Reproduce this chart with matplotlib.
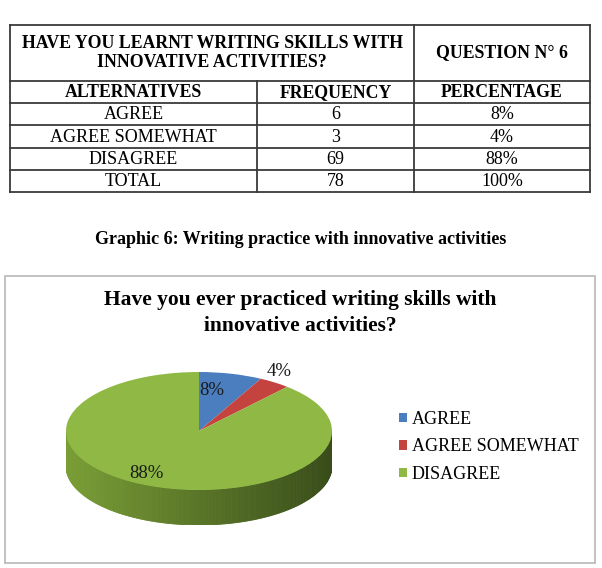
import numpy as np
import matplotlib
matplotlib.use("Agg")
import matplotlib.pyplot as plt
from matplotlib.patches import Polygon, Patch, Rectangle


ALTERNATIVES = ["AGREE", "AGREE SOMEWHAT", "DISAGREE"]
FREQUENCY = [6, 3, 69]
PERCENTAGE = ["8%", "4%", "88%"]
TOTAL_FREQUENCY = 78
TOTAL_PERCENTAGE = "100%"

TABLE_TITLE = "HAVE YOU LEARNT WRITING SKILLS WITH\nINNOVATIVE ACTIVITIES?"
QUESTION = "QUESTION N° 6"
TABLE_HEADERS = ["ALTERNATIVES", "FREQUENCY", "PERCENTAGE"]
CAPTION = "Graphic 6: Writing practice with innovative activities"
CHART_TITLE = "Have you ever practiced writing skills with\ninnovative activities?"

SLICE_COLORS = ["#4A7EBF", "#C4433E", "#8FB944"]
SIDE_LIGHT = np.array([0.48, 0.62, 0.21])
SIDE_DARK = np.array([0.22, 0.30, 0.10])

W, H = 602, 568
plt.rcParams["font.family"] = ["Liberation Serif", "DejaVu Serif"]


def draw_table(ax):
    col_x = [10, 257, 414, 590]
    row_y = [25, 81, 103, 125, 148, 170, 192]
    line_kw = dict(color="#3a3a3a", lw=1.3)

    for y in row_y:
        ax.plot([col_x[0], col_x[-1]], [y, y], **line_kw)
    for x in [col_x[0], col_x[2], col_x[3]]:
        ax.plot([x, x], [row_y[0], row_y[-1]], **line_kw)
    ax.plot([col_x[1], col_x[1]], [row_y[1], row_y[-1]], **line_kw)

    ax.text((col_x[0] + col_x[2]) / 2, (row_y[0] + row_y[1]) / 2, TABLE_TITLE,
            ha="center", va="center", fontsize=12.8, fontweight="bold", linespacing=1.18)
    ax.text((col_x[2] + col_x[3]) / 2, (row_y[0] + row_y[1]) / 2, QUESTION,
            ha="center", va="center", fontsize=12.8, fontweight="bold")

    rows = [TABLE_HEADERS]
    for alt, freq, pct in zip(ALTERNATIVES, FREQUENCY, PERCENTAGE):
        rows.append([alt, str(freq), pct])
    rows.append(["TOTAL", str(TOTAL_FREQUENCY), TOTAL_PERCENTAGE])

    for i, row in enumerate(rows):
        yc = (row_y[i + 1] + row_y[i + 2]) / 2 + 0.5
        for j, cell in enumerate(row):
            xc = (col_x[j] + col_x[j + 1]) / 2
            ax.text(xc, yc, cell, ha="center", va="center",
                    fontsize=12.8 if i == 0 else 13,
                    fontweight="bold" if i == 0 else "normal")


def draw_pie(fig):
    # pixel box of the 3d pie (top ellipse + side)
    left, right, top, bottom = 66, 332, 372, 525
    depth = 35 / 59.0
    pa = fig.add_axes([left / W, 1 - bottom / H, (right - left) / W, (bottom - top) / H])

    fracs = np.array(FREQUENCY) / sum(FREQUENCY)
    cum = np.cumsum(fracs) * 360

    # front side of the disc, shaded from left to right
    ts = np.linspace(180, 360, 181)
    for t1, t2 in zip(ts[:-1], ts[1:]):
        mid = (t1 + t2) / 2
        off = (90 - mid) % 360
        k = int(np.searchsorted(cum, off, side="right"))
        shade = (np.cos(np.radians(mid)) + 1) / 2
        if k == 2:
            col = SIDE_LIGHT * (1 - shade) + SIDE_DARK * shade
        else:
            col = np.array(matplotlib.colors.to_rgb(SLICE_COLORS[k])) * 0.6
        a1, a2 = np.radians(t1), np.radians(t2)
        pts = [(np.cos(a1), np.sin(a1)), (np.cos(a2), np.sin(a2)),
               (np.cos(a2), np.sin(a2) - depth), (np.cos(a1), np.sin(a1) - depth)]
        pa.add_patch(Polygon(pts, closed=True, facecolor=col, edgecolor=col, lw=0.6))

    pa.pie(FREQUENCY, colors=SLICE_COLORS, startangle=90, counterclock=False,
           wedgeprops=dict(linewidth=0))
    pa.set_aspect("auto")
    pa.set_xlim(-1, 1)
    pa.set_ylim(-1 - depth, 1)
    pa.axis("off")

    # data labels
    radii = [0.70, 1.18, 0.82]
    nudges = [6, 4, -8]
    start = 90 - np.concatenate([[0], cum[:-1]])
    for i, pct in enumerate(PERCENTAGE):
        mid = np.radians(start[i] - fracs[i] * 180 + nudges[i])
        pa.text(radii[i] * np.cos(mid), radii[i] * np.sin(mid), pct,
                ha="center", va="center", fontsize=13.5, color="#1a1a1a")


def main():
    fig = plt.figure(figsize=(W / 100, H / 100), dpi=100)
    ax = fig.add_axes([0, 0, 1, 1])
    ax.set_xlim(0, W)
    ax.set_ylim(H, 0)
    ax.axis("off")

    draw_table(ax)

    ax.text(W / 2, 239, CAPTION, ha="center", va="center",
            fontsize=13, fontweight="bold")

    ax.add_patch(Rectangle((5, 276), 590, 287, fill=False,
                           edgecolor="#BDBDBD", lw=1.3))
    ax.text(300, 313, CHART_TITLE, ha="center", va="center",
            fontsize=15.5, fontweight="bold", linespacing=1.35)

    draw_pie(fig)

    handles = [Patch(facecolor=c, edgecolor="none") for c in SLICE_COLORS]
    fig.legend(handles, ALTERNATIVES, loc="upper left",
               bbox_to_anchor=(399 / W, 1 - 411 / H), frameon=False,
               fontsize=13, handlelength=0.42, handleheight=0.42,
               handletextpad=0.3, labelspacing=0.58, borderpad=0,
               borderaxespad=0)

    fig.savefig("out.png", dpi=100)
    plt.close(fig)


if __name__ == "__main__":
    main()
